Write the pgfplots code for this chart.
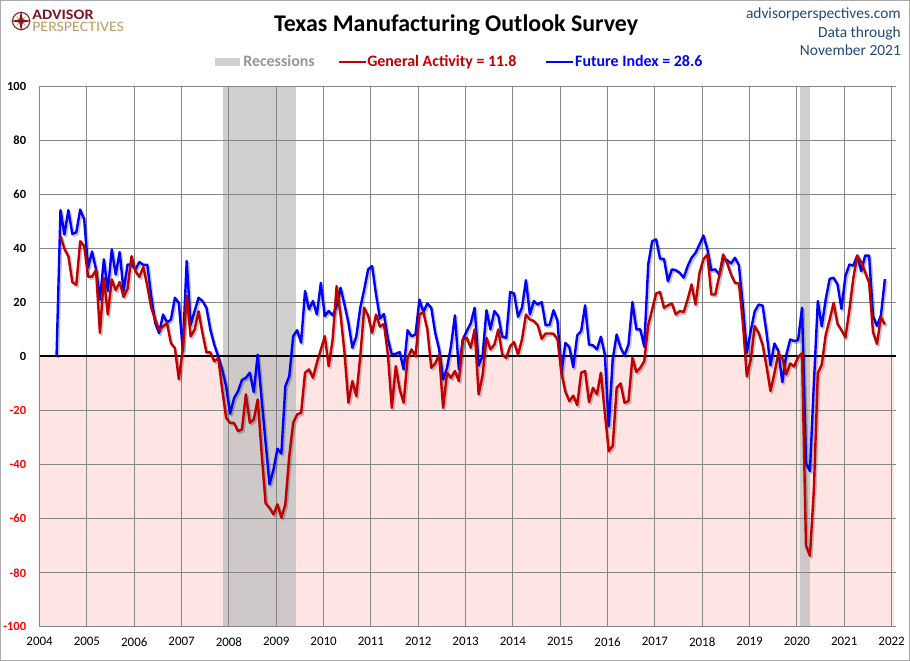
\documentclass[border=0pt]{standalone}
\usepackage{fontspec}
\setmainfont{Carlito}
\usepackage{pgfplots}
\pgfplotsset{compat=1.18}
\usepackage{pgfplotstable}

\definecolor{gridc}{RGB}{134,134,134}
\definecolor{pinkbg}{RGB}{255,228,228}
\definecolor{recc}{RGB}{191,191,191}
\definecolor{reclg}{RGB}{208,208,208}
\definecolor{gared}{RGB}{192,0,0}
\definecolor{fiblue}{RGB}{0,0,255}
\definecolor{apblue}{RGB}{31,73,125}
\definecolor{apred}{RGB}{125,22,32}
\definecolor{apgold}{RGB}{188,156,96}
\definecolor{leggray}{RGB}{150,150,150}
\definecolor{negred}{RGB}{255,0,0}

\pgfplotstableread{
m g f
4 nan 0
5 44.5 54.1
6 39.8 45.1
7 37 54.1
8 27.5 45.3
9 26.5 45.9
10 42.6 54.3
11 40.8 50.7
12 29.5 32.8
13 29.5 38.8
14 32 32.2
15 8.7 21
16 29 35.9
17 15.5 24.2
18 28.5 39.6
19 24.5 30.3
20 27.5 38.6
21 22 24.2
22 25 34
23 37.1 34
24 31.5 32.2
25 29.4 34.9
26 33.1 33.9
27 26.1 33.9
28 18 22.3
29 13.6 12.4
30 9.9 8.6
31 11.1 15.5
32 12.3 12.6
33 4.9 13.6
34 3.1 21.7
35 -8.4 19.8
36 2.5 2.5
37 22.5 35.3
38 7.4 11.7
39 9.9 16.7
40 16.7 21.7
41 8.6 20.5
42 1.5 18
43 1.5 9.9
44 -1.8 4.3
45 -0.6 0
46 -12.3 -4.9
47 -22.7 -11.1
48 -24.5 -21.2
49 -24.6 -15.4
50 -27.6 -12.9
51 -27 -8.7
52 -14 -7.9
53 -24.5 -6
54 -23.3 -13.2
55 -15.9 0.7
56 -36 -15.9
57 -54.3 -31.9
58 -56 -47.3
59 -58.4 -41.8
60 -54.7 -34.1
61 -59.6 -35.9
62 -54.7 -11
63 -36.8 -7.3
64 -24.5 7.5
65 -21.4 9.7
66 -20.8 5.1
67 -6 24.2
68 -4.8 17.4
69 -7.9 20.5
70 -2.3 15.5
71 2.5 27.2
72 7.5 14.9
73 -3.6 16.8
74 6.3 15.2
75 26 18.6
76 15.5 25.4
77 1.4 19.2
78 -17.1 12.4
79 -9.1 3.2
80 -14.7 7.5
81 0.1 18
82 18 24.8
83 15 32.2
84 8.7 33.4
85 15.5 22.9
86 11 14
87 12 15.7
88 0.7 6.5
89 -19 0.7
90 -3.6 1
91 -12.2 1.6
92 -17.1 -4.8
93 -0.5 9.7
94 2.6 7.5
95 0.1 8.1
96 15.5 21
97 16.4 16.4
98 10 19.6
99 -4.2 18
100 -2.6 8.7
101 0.7 2.6
102 -19 -8.5
103 -6 -4.2
104 -7.9 3.8
105 -5.4 15.2
106 -9.1 -4.8
107 6.3 6.3
108 6.9 9.4
109 3.2 12.2
110 10 18
111 -14 -3.3
112 -7 0.1
113 6.9 17.1
114 2.6 10
115 4.4 16.8
116 10 14.9
117 0.7 7.3
118 -0.5 6.9
119 3.8 23.8
120 5.3 23.3
121 0.7 14.7
122 6.3 18
123 15.5 28.2
124 13.7 15.5
125 13.1 20.5
126 11.5 19.2
127 6.5 20.1
128 8.5 11.5
129 8.5 11.7
130 8.4 17.1
131 6.3 13.1
132 -6 -6.2
133 -13 5
134 -16.5 3.5
135 -14.5 -4
136 -18 7.8
137 -6 9.4
138 -5.4 18.9
139 -16.9 4.4
140 -11.6 4.1
141 -14 2.6
142 -6 7.3
143 -20.8 0.7
144 -35 -25.8
145 -33.1 -1.1
146 -11.6 8.1
147 -10 3.2
148 -17.1 0.4
149 -16.5 4.4
150 -0.5 20.1
151 -5.8 10
152 -4.2 10
153 -1.7 3.6
154 11.5 34
155 17.4 42.6
156 23.3 43.3
157 23.8 36.1
158 18 36.1
159 18.9 27.8
160 19.6 32.2
161 15.5 31.9
162 16.8 30.9
163 16.4 29.1
164 21.1 33.4
165 26.6 36.5
166 19.2 38.3
167 30.9 41.4
168 35.9 44.7
169 37.7 39.6
170 22.9 31.9
171 22.9 32.2
172 29.7 30.3
173 37.7 36.1
174 34.6 35.6
175 30.3 34.4
176 27.2 36.5
177 27 33.7
178 12.4 18.6
179 -7.4 1.3
180 -1.2 9.5
181 11.2 16.7
182 8.7 19.2
183 4.3 18.8
184 -3.7 8.7
185 -12.8 -3.3
186 -6.2 4.8
187 1.2 2
188 -0.6 -9.5
189 -6.7 0.6
190 -2.6 6.3
191 -3.7 5.7
192 -0.2 6
193 1.2 18
194 -70 -39.4
195 -73.7 -42.4
196 -49.2 -10
197 -6.1 20.5
198 -3 11.1
199 8 21.1
200 13.6 28.7
201 19.8 29.1
202 12 26.6
203 9.7 17.6
204 7 29.7
205 17.2 34
206 28.9 33.6
207 37.3 37.3
208 34.9 31.5
209 31.1 37.3
210 27.3 37.3
211 9 14.9
212 4.6 11.3
213 14.6 15.2
214 11.8 28.6
}\tmos

\begin{document}
\begin{tikzpicture}[x=1bp,y=1bp]
\path (0,0) rectangle (910,661);
\draw[gridc!70, line width=1bp] (0.5,0.5) rectangle (909.5,660.5);
\begin{axis}[
  at={(39.5bp,34bp)}, anchor=south west,
  scale only axis, width=856bp, height=541bp,
  set layers,
  xmin=0, xmax=217, ymin=-100, ymax=100,
  xtick={0,12,...,216},
  xticklabels={2004,2005,2006,2007,2008,2009,2010,2011,2012,2013,2014,2015,2016,2017,2018,2019,2020,2021,2022},
  ytick={-100,-80,...,100},
  yticklabels={\textcolor{negred}{-100},\textcolor{negred}{-80},\textcolor{negred}{-60},\textcolor{negred}{-40},\textcolor{negred}{-20},0,20,40,60,80,100},
  extra y ticks={0}, extra y tick labels={},
  extra y tick style={grid=major, major grid style={black, line width=2bp}},
  grid=major,
  major grid style={gridc, line width=0.9bp},
  axis x line*=bottom, axis y line*=left,
  axis line style={gridc, line width=0.9bp},
  tick style={draw=none},
  xticklabel style={font=\fontsize{13}{14}\selectfont, yshift=-7bp},
  yticklabel style={font=\bfseries\fontsize{12.5}{14}\selectfont, xshift=-10bp},
  unbounded coords=jump,
  clip=true,
]
% pink negative zone
\addplot[fill=pinkbg, draw=none, on layer=axis background] coordinates {(0,0) (216.5,0) (216.5,-100) (0,-100)} -- cycle;
% recessions
\addplot[fill=recc, fill opacity=0.75, draw=none, on layer=axis background] coordinates {(46.5,100) (65,100) (65,-100) (46.5,-100)} -- cycle;
\addplot[fill=recc, fill opacity=0.75, draw=none, on layer=axis background] coordinates {(192.8,100) (195.3,100) (195.3,-100) (192.8,-100)} -- cycle;
% shadows and lines
\addplot[black, opacity=0.22, line width=2.6bp, line join=round, no markers, xshift=1.5bp, yshift=-1.8bp] table[x expr=\thisrow{m}+0.3, y=f] {\tmos};
\addplot[fiblue, line width=2.4bp, line join=round, no markers] table[x expr=\thisrow{m}+0.3, y=f] {\tmos};
\addplot[black, opacity=0.22, line width=2.6bp, line join=round, no markers, xshift=1.5bp, yshift=-1.8bp] table[x expr=\thisrow{m}+0.3, y=g] {\tmos};
\addplot[gared, line width=2.4bp, line join=round, no markers] table[x expr=\thisrow{m}+0.3, y=g] {\tmos};
\end{axis}

% logo
\draw[apred!80!apgold, line width=1.2bp] (21,640) circle (8.6);
\fill[apgold] (21,640) ++(45:7) -- (22.2,640) -- (21,641.2) -- cycle;
\fill[apgold] (21,640) ++(135:7) -- (21,641.2) -- (19.8,640) -- cycle;
\fill[apgold] (21,640) ++(-45:7) -- (21,638.8) -- (22.2,640) -- cycle;
\fill[apgold] (21,640) ++(-135:7) -- (19.8,640) -- (21,638.8) -- cycle;
\fill[apred] (21,650.5) -- (22.6,641.6) -- (31.5,640) -- (22.6,638.4) -- (21,629.5) -- (19.4,638.4) -- (10.5,640) -- (19.4,641.6) -- cycle;
\node[anchor=base west, inner sep=0, text height=9.3bp, text depth=0pt, text=apred, font=\bfseries\fontsize{14.5}{15}\selectfont] at (32,641.5) {\scalebox{1.12}[1]{ADVISOR}};
\node[anchor=base west, inner sep=0, text height=9.3bp, text depth=0pt, text=apgold, font=\fontsize{14.5}{15}\selectfont] at (32,629.8) {\scalebox{1.1}[1]{PERSPECTIVES}};

% title
\node[anchor=base, inner sep=0, font=\bfseries\fontsize{24}{28}\selectfont] at (456,629) {Texas Manufacturing Outlook Survey};
% source text
\node[anchor=base east, inner sep=0, text=apblue, font=\fontsize{15.5}{18}\selectfont] at (901,642) {advisorperspectives.com};
\node[anchor=base east, inner sep=0, text=apblue, font=\fontsize{15.5}{18}\selectfont] at (901,623.5) {Data through};
\node[anchor=base east, inner sep=0, text=apblue, font=\fontsize{15.5}{18}\selectfont] at (901,605) {November 2021};

% legend
\fill[reclg] (215,595) rectangle (240,603);
\node[anchor=base west, inner sep=0, text=leggray, font=\bfseries\fontsize{16}{18}\selectfont] at (243,594) {Recessions};
\draw[gared, line width=2.4bp] (339,599) -- (366,599);
\node[anchor=base west, inner sep=0, text=gared, font=\bfseries\fontsize{16}{18}\selectfont] at (367,594) {General Activity = 11.8};
\draw[fiblue, line width=2.4bp] (546,599) -- (573,599);
\node[anchor=base west, inner sep=0, text=fiblue, font=\bfseries\fontsize{16}{18}\selectfont] at (575,594) {Future Index = 28.6};
\end{tikzpicture}
\end{document}
